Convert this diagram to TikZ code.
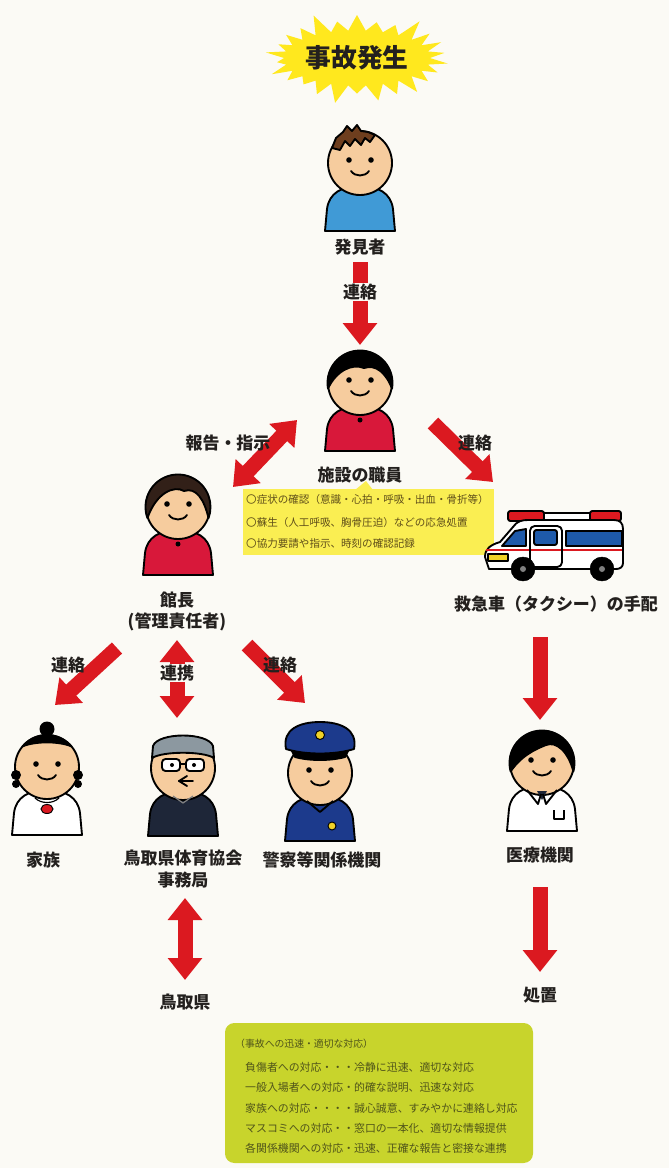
\documentclass[tikz,border=0pt]{standalone}
\usepackage{fontspec}
\newfontfamily\jp{Noto Sans CJK JP}
\usetikzlibrary{arrows.meta}
\usetikzlibrary{shapes.symbols}

\definecolor{paper}{RGB}{251,250,245}
\definecolor{arrowred}{RGB}{219,25,32}
\definecolor{skin}{RGB}{246,204,158}
\definecolor{ink}{RGB}{35,32,30}
\definecolor{staryellow}{RGB}{255,232,30}
\definecolor{noteyellow}{RGB}{250,238,82}
\definecolor{notegreen}{RGB}{200,212,44}
\definecolor{noteink}{RGB}{95,78,25}
\definecolor{greenink}{RGB}{80,84,26}
\definecolor{shirtblue}{RGB}{64,154,214}
\definecolor{shirtred}{RGB}{216,24,58}
\definecolor{hairbrown}{RGB}{110,62,30}
\definecolor{hairdark}{RGB}{50,32,24}
\definecolor{hairgrey}{RGB}{140,152,160}
\definecolor{suitnavy}{RGB}{30,38,56}
\definecolor{policeblue}{RGB}{28,58,140}
\definecolor{windowblue}{RGB}{30,90,170}
\definecolor{lampyellow}{RGB}{240,210,40}

\tikzset{
  lbl/.style={font=\jp\bfseries\fontsize{14.5}{17}\selectfont, text=ink, inner sep=1pt},
  burst/.style={starburst, starburst points=26, starburst point height=0.65cm, fill=staryellow,
    minimum width=4.55cm, minimum height=2.95cm, inner sep=0pt,
    font=\jp\bfseries\fontsize{22}{24}\selectfont, text=ink},
  notetext/.style={font=\jp\fontsize{9}{11}\selectfont, text=noteink, anchor=west, inner sep=0pt},
  greentext/.style={font=\jp\fontsize{9.3}{11}\selectfont, text=greenink, anchor=west, inner sep=0pt},
  redarrow/.style={draw=arrowred, line width=0.45cm, -{Triangle[length=0.66cm, width=1cm]}},
  redboth/.style={draw=arrowred, line width=0.45cm, {Triangle[length=0.66cm, width=1cm]}-{Triangle[length=0.66cm, width=1cm]}},
  inkline/.style={draw=black, line width=1.6pt, line join=round},
  pics/person/.style={code={
    \filldraw[fill=#1, inkline] (-35,-68) -- (-33,-46) .. controls (-31,-30) and (-18,-23) .. (0,-23) .. controls (18,-23) and (31,-30) .. (33,-46) -- (35,-68) -- cycle;
    \filldraw[fill=skin, inkline] (0,0) circle (32);
  }},
  pics/smile/.style={code={
    \fill (-11,3) circle (2.8);
    \fill (11,3) circle (2.8);
    \draw[line width=1.6pt, line cap=round] (-9,-8) .. controls (-5,-14) and (5,-14) .. (9,-8);
  }},
}

\begin{document}
\begin{tikzpicture}[x=0.03cm, y=0.03cm]
    \fill[paper] (0,0) rectangle (669,-1168);
    \useasboundingbox (0,0) rectangle (669,-1168);

    \node[burst] (accident) at (357,-58) {事故発生};

    % finder
    \pic at (360,-163) {person=shirtblue};
    \begin{scope}[shift={(360,-163)}]
        \filldraw[fill=hairbrown, inkline] (-28,15) -- (-24,25) -- (-17,31) -- (-13,37) -- (-8,32) -- (-3,38) -- (1,32) -- (8,31) -- (15,28) -- (10,21) -- (5,25) -- (1,18) -- (-5,24) -- (-10,17) -- (-15,22) -- (-20,13) -- cycle;
    \end{scope}
    \pic at (360,-163) {smile};

    % staff
    \pic at (360,-383) {person=shirtred};
    \begin{scope}[shift={(360,-383)}]
        \filldraw[fill=black, inkline] (190:32.5) arc[start angle=190, end angle=-10, radius=32.5] .. controls (26,10) and (16,19) .. (4,15) .. controls (-8,20) and (-24,12) .. (190:32.5) -- cycle;
        \fill (0,-37) circle (2.5);
    \end{scope}
    \pic at (360,-383) {smile};

    % chief
    \pic at (178,-507) {person=shirtred};
    \begin{scope}[shift={(178,-507)}]
        \filldraw[fill=hairdark, inkline] (200:32.5) arc[start angle=200, end angle=-20, radius=32.5] .. controls (26,8) and (18,20) .. (6,16) .. controls (-4,22) and (-22,14) .. (200:32.5) -- cycle;
        \fill (0,-37) circle (2.5);
    \end{scope}
    \pic at (178,-507) {smile};

    % doctor
    \pic at (542,-763) {person=white};
    \begin{scope}[shift={(542,-763)}]
        \filldraw[fill=black, inkline] (195:32.5) arc[start angle=195, end angle=-15, radius=32.5] .. controls (26,12) and (14,22) .. (4,18) .. controls (-6,14) and (-20,8) .. (195:32.5) -- cycle;
        \fill[suitnavy] (-5,-28) -- (0,-37) -- (5,-28) -- cycle;
        \draw[inkline] (-15,-27) -- (-4,-41) -- (-1,-31);
        \draw[inkline] (15,-27) -- (4,-41) -- (1,-31);
        \draw[inkline] (12,-47) -- (12,-56) -- (22,-56) -- (22,-47);
    \end{scope}
    \pic at (542,-763) {smile};

    % family
    \pic at (47,-767) {person=white};
    \begin{scope}[shift={(47,-767)}]
        \fill (0,38) circle (7.5);
        \filldraw[fill=black, inkline] (140:32) arc[start angle=140, end angle=40, radius=32] .. controls (12,26) and (-12,26) .. (140:32) -- cycle;
        \fill (-31,-8) circle (5);
        \fill (-31,-17) circle (4);
        \fill (31,-8) circle (5);
        \fill (31,-17) circle (4);
        \draw[line width=1pt] (-12,-31) .. controls (-6,-37) and (6,-37) .. (12,-31);
        \filldraw[fill=arrowred, draw=black, line width=0.8pt] (0,-42) ellipse (6 and 4.5);
    \end{scope}
    \pic at (47,-767) {smile};

    % sports association
    \pic at (183,-768) {person=suitnavy};
    \begin{scope}[shift={(183,-768)}]
        \filldraw[fill=hairgrey, inkline] (-31,10) -- (-30,22) .. controls (-25,36) and (25,36) .. (30,22) -- (31,10) .. controls (20,17) and (-20,17) .. (-31,10) -- cycle;
        \filldraw[fill=white, inkline, rounded corners=3] (-21,-3) rectangle (-3,9);
        \filldraw[fill=white, inkline, rounded corners=3] (3,-3) rectangle (21,9);
        \draw[inkline] (-3,4) -- (3,4);
        \fill (-11,3) circle (2);
        \fill (11,3) circle (2);
        \draw[inkline, line cap=round] (4,-8) -- (-4,-13) -- (4,-18);
        \draw[inkline, line cap=round] (-4,-13) -- (10,-13);
        \draw[draw=gray, line width=1pt] (-10,-28) -- (0,-35) -- (10,-28);
    \end{scope}

    % police
    \pic at (320,-773) {person=policeblue};
    \begin{scope}[shift={(320,-773)}]
        \filldraw[fill=policeblue, inkline] (-34,24) .. controls (-38,44) and (-20,51) .. (0,51) .. controls (20,51) and (38,44) .. (34,24) .. controls (15,18) and (-15,18) .. (-34,24) -- cycle;
        \filldraw[fill=black, inkline] (-28,22) .. controls (-10,17) and (10,17) .. (28,22) -- (25,16) .. controls (10,12) and (-10,12) .. (-25,16) -- cycle;
        \filldraw[fill=lampyellow, draw=black, line width=0.8pt] (0,38) circle (4.5);
        \draw[inkline] (-13,-28) -- (0,-39) -- (13,-28);
        \filldraw[fill=lampyellow, draw=black, line width=0.8pt] (12,-53) circle (4);
    \end{scope}
    \pic at (320,-773) {smile};

    % first aid note
    \fill[noteyellow] (355,-490) -- (366,-481) -- (373,-490) -- cycle;
    \fill[noteyellow] (243,-489) rectangle (494,-555);
    \node[notetext] (aid1) at (246,-499) {〇症状の確認（意識・心拍・呼吸・出血・骨折等）};
    \node[notetext] (aid2) at (246,-522) {〇蘇生（人工呼吸、胸骨圧迫）などの応急処置};
    \node[notetext] (aid3) at (246,-544) {〇協力要請や指示、時刻の確認記録};

    % ambulance
    \filldraw[fill=arrowred, inkline, rounded corners=2] (508,-521) rectangle (544,-511);
    \filldraw[fill=white, inkline] (544,-521) rectangle (590,-513);
    \filldraw[fill=arrowred, inkline, rounded corners=2] (590,-521) rectangle (621,-511);
    \filldraw[fill=white, inkline] (489,-569) -- (485,-557) .. controls (485,-549) and (490,-545) .. (500,-542) -- (513,-527) .. controls (517,-521) and (522,-520) .. (528,-520) -- (614,-520) .. controls (620,-520) and (623,-523) .. (623,-529) -- (623,-563) .. controls (623,-567) and (620,-569) .. (616,-569) -- cycle;
    \filldraw[fill=windowblue, inkline] (502,-546) -- (515,-531) -- (526,-529) -- (526,-546) -- cycle;
    \filldraw[fill=windowblue, inkline, rounded corners=2] (534,-530) rectangle (557,-545);
    \filldraw[fill=windowblue, inkline] (566,-531) rectangle (622,-546);
    \draw[arrowred, line width=2pt] (486,-550) -- (622,-550);
    \draw[inkline, rounded corners=4] (530,-526) rectangle (562,-567);
    \filldraw[fill=lampyellow, inkline] (488,-554) rectangle (508,-561);
    \filldraw[fill=black] (523,-569) circle (12);
    \filldraw[fill=black] (602,-569) circle (12);
    \fill[gray] (523,-569) circle (3);
    \fill[gray] (602,-569) circle (3);

    % labels
    \node[lbl] (finderlbl) at (360,-247) {発見者};
    \node[lbl] (stafflbl) at (360,-475) {施設の職員};
    \node[lbl] (chieflbl) at (177,-600) {館長};
    \node[lbl] (chieflbl2) at (177,-622) {(管理責任者)};
    \node[lbl] (amblbl) at (556,-604) {救急車（タクシー）の手配};
    \node[lbl] (familylbl) at (43,-860) {家族};
    \node[lbl] (assoclbl) at (183,-858) {鳥取県体育協会};
    \node[lbl] (assoclbl2) at (183,-880) {事務局};
    \node[lbl] (policelbl) at (322,-860) {警察等関係機関};
    \node[lbl] (hosplbl) at (540,-855) {医療機関};
    \node[lbl] (preflbl) at (185,-1002) {鳥取県};
    \node[lbl] (treatlbl) at (540,-995) {処置};

    % arrows
    \coordinate (a1s) at (360,-262);  \coordinate (a1e) at (360,-345);
    \coordinate (a2s) at (297,-420);  \coordinate (a2e) at (233,-487);
    \coordinate (a3s) at (433,-423);  \coordinate (a3e) at (493,-482);
    \coordinate (a4s) at (540,-637);  \coordinate (a4e) at (540,-720);
    \coordinate (a5s) at (540,-887);  \coordinate (a5e) at (540,-972);
    \coordinate (a6s) at (117,-648);  \coordinate (a6e) at (55,-705);
    \coordinate (a7s) at (177,-640);  \coordinate (a7e) at (177,-718);
    \coordinate (a8s) at (247,-645);  \coordinate (a8e) at (305,-703);
    \coordinate (a9s) at (185,-898);  \coordinate (a9e) at (185,-980);

    \draw[redarrow] (a1s) -- (a1e);
    \draw[redboth] (a2s) -- (a2e);
    \draw[redarrow] (a3s) -- (a3e);
    \draw[redarrow] (a4s) -- (a4e);
    \draw[redarrow] (a5s) -- (a5e);
    \draw[redarrow] (a6s) -- (a6e);
    \draw[redboth] (a7s) -- (a7e);
    \draw[redarrow] (a8s) -- (a8e);
    \draw[redboth] (a9s) -- (a9e);

    \node[lbl, fill=paper] (tell1) at (360,-292) {連絡};
    \node[lbl] (report) at (228,-443) {報告・指示};
    \node[lbl] (tell2) at (475,-443) {連絡};
    \node[lbl] (tell3) at (68,-665) {連絡};
    \node[lbl, fill=paper] (coop) at (177,-673) {連携};
    \node[lbl] (tell4) at (280,-665) {連絡};

    % response note
    \fill[notegreen, rounded corners=8] (225,-1023) rectangle (533,-1163);
    \node[greentext, font=\jp\fontsize{8.4}{10}\selectfont] (resp0) at (235,-1044) {（事故への迅速・適切な対応）};
    \node[greentext] (resp1) at (245,-1067) {負傷者への対応・・・冷静に迅速、適切な対応};
    \node[greentext] (resp2) at (245,-1087) {一般入場者への対応・的確な説明、迅速な対応};
    \node[greentext] (resp3) at (245,-1108) {家族への対応・・・・誠心誠意、すみやかに連絡し対応};
    \node[greentext] (resp4) at (245,-1128) {マスコミへの対応・・窓口の一本化、適切な情報提供};
    \node[greentext] (resp5) at (245,-1148) {各関係機関への対応・迅速、正確な報告と密接な連携};

\end{tikzpicture}
\end{document}
